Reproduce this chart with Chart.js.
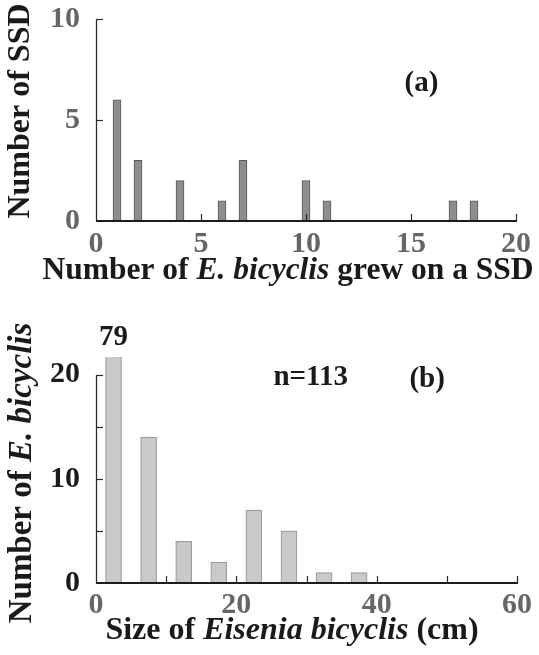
<!DOCTYPE html>
<html><head><meta charset="utf-8">
<script src="https://cdn.jsdelivr.net/npm/chart.js@4/dist/chart.umd.min.js"></script>
<style>
html,body{margin:0;padding:0;background:#fff;width:539px;height:655px;overflow:hidden}
canvas{position:absolute;left:0}
#ca{top:0}
#cb{top:300px}
</style></head><body>
<canvas id="ca" width="539" height="300"></canvas>
<canvas id="cb" width="539" height="355"></canvas>
<script>
// ---- data ----
const ssdCounts = [1, 2, 4, 6, 7, 10, 11, 17, 18];
const ssdFreq   = [6, 3, 2, 1, 3, 2, 1, 1, 1];
const ssdYTicks = [0, 5, 10];
const ssdXTicks = [0, 5, 10, 15, 20];

const sizeBins  = [2.5, 7.5, 12.5, 17.5, 22.5, 27.5, 32.5, 37.5];
const sizeFreq  = [79, 14, 4, 2, 7, 5, 1, 1];
const sizeYTicks = [0, 5, 10, 15, 20];
const sizeYLabels = [0, 10, 20];
const sizeXTicks = [0, 10, 20, 30, 40, 50, 60];
const sizeXLabels = [0, 20, 40, 60];

const panelA = '(a)';
const panelB = '(b)';
const sampleNote = 'n=113';
const titleAX = [['Number of ', false], ['E. bicyclis', true], [' grew on a SSD', false]];
const titleAY = [['Number of SSD', false]];
const titleBX = [['Size of ', false], ['Eisenia bicyclis', true], [' (cm)', false]];
const titleBY = [['Number of ', false], ['E. bicyclis', true]];

// ---- helpers ----
const FAM = "'Liberation Serif','Times New Roman',serif";
function fnt(size, italic){ return (italic ? 'italic ' : '') + 'bold ' + size + 'px ' + FAM; }
function drawMixed(ctx, segs, cx, cy, size, rot, color){
  ctx.save();
  ctx.translate(cx, cy);
  if (rot) ctx.rotate(rot);
  ctx.fillStyle = color;
  ctx.textBaseline = 'middle';
  ctx.textAlign = 'left';
  let total = 0;
  const w = segs.map(s => { ctx.font = fnt(size, s[1]); const m = ctx.measureText(s[0]).width; total += m; return m; });
  let x = -total / 2;
  segs.forEach((s, i) => { ctx.font = fnt(size, s[1]); ctx.fillText(s[0], x, 0); x += w[i]; });
  ctx.restore();
}

function axesPlugin(o){
  return {
    id: 'axesDraw',
    afterDatasetsDraw(chart){
      const ctx = chart.ctx, xs = chart.scales.x, ys = chart.scales.y;
      const x0 = Math.round(xs.getPixelForValue(0));
      const y0 = Math.round(ys.getPixelForValue(0));
      ctx.save();
      // x axis
      ctx.strokeStyle = '#1c1c1c';
      ctx.lineWidth = 2;
      ctx.beginPath();
      ctx.moveTo(x0, y0);
      ctx.lineTo(Math.round(xs.getPixelForValue(o.xEnd)) + 1, y0);
      ctx.stroke();
      // y axis
      ctx.lineWidth = 1.3;
      ctx.strokeStyle = '#2a2a2a';
      ctx.beginPath();
      ctx.moveTo(x0 + 0.5, y0);
      ctx.lineTo(x0 + 0.5, Math.round(ys.getPixelForValue(o.yEnd)));
      ctx.stroke();
      // inward ticks
      ctx.lineWidth = 1.2;
      o.yTicks.forEach(v => { if (v === 0) return; const yy = Math.round(ys.getPixelForValue(v)) + 0.5;
        ctx.beginPath(); ctx.moveTo(x0, yy); ctx.lineTo(x0 + 7, yy); ctx.stroke(); });
      o.xTicks.forEach(v => { if (v === 0) return; const xx = Math.round(xs.getPixelForValue(v)) + 0.5;
        ctx.beginPath(); ctx.moveTo(xx, y0); ctx.lineTo(xx, y0 - 7); ctx.stroke(); });
      // annotations
      (o.notes || []).forEach(n => {
        ctx.font = fnt(n.size, false);
        ctx.fillStyle = '#1a1a1a';
        ctx.textAlign = 'center';
        ctx.textBaseline = 'middle';
        ctx.fillText(n.text, xs.getPixelForValue(n.x), ys.getPixelForValue(n.y));
      });
      // overflow value labels
      if (o.overflow) {
        const ds = chart.data.datasets[0].data;
        ds.forEach(p => {
          if (p.y > ys.max) {
            ctx.font = fnt(29, false);
            ctx.fillStyle = '#1a1a1a';
            ctx.textAlign = 'center';
            ctx.textBaseline = 'middle';
            ctx.fillText(String(p.y), xs.getPixelForValue(p.x), chart.chartArea.top - 19);
          }
        });
      }
      // axis titles
      o.titles.forEach(t => drawMixed(ctx, t.segs, t.x, t.y, t.size, t.rot, '#1a1a1a'));
      ctx.restore();
    }
  };
}

function tickFont(){ return { family: FAM, weight: 'bold', size: 30 }; }
function fitX(h){ return s => { s.height = h; s.paddingLeft = 0; s.paddingRight = 0; }; }
function fitY(w){ return s => { s.width = w; s.paddingTop = 0; s.paddingBottom = 0; }; }

// ---- chart (a) ----
new Chart(document.getElementById('ca'), {
  type: 'bar',
  data: { datasets: [{
    data: ssdCounts.map((c, i) => ({ x: c, y: ssdFreq[i] })),
    backgroundColor: '#8d8d8f', borderColor: '#58585a', borderWidth: 1, barThickness: 8
  }]},
  options: {
    responsive: false, animation: false, events: [], devicePixelRatio: 1,
    layout: { padding: { left: 0, top: 19, right: 23, bottom: 0 } },
    plugins: { legend: { display: false }, tooltip: { enabled: false } },
    scales: {
      x: { type: 'linear', min: 0, max: 20, offset: false,
        afterBuildTicks: s => { s.ticks = ssdXTicks.map(v => ({ value: v })); },
        grid: { display: false, drawTicks: false }, border: { display: false },
        ticks: { color: '#666', font: tickFont(), padding: 5, maxRotation: 0, autoSkip: false },
        afterFit: fitX(79) },
      y: { min: 0, max: 10,
        afterBuildTicks: s => { s.ticks = ssdYTicks.map(v => ({ value: v })); },
        grid: { display: false, drawTicks: false }, border: { display: false },
        ticks: { color: '#666', font: tickFont(), padding: 16 },
        afterFit: fitY(96) }
    }
  },
  plugins: [axesPlugin({
    xEnd: 20, yEnd: 10, xTicks: ssdXTicks, yTicks: ssdYTicks,
    notes: [{ text: panelA, x: 15.5, y: 6.8, size: 29 }],
    titles: [
      { segs: titleAX, x: 288, y: 271, size: 31.5, rot: 0 },
      { segs: titleAY, x: 21, y: 111, size: 32, rot: -Math.PI / 2 }
    ]
  })]
});

// ---- chart (b) ----
new Chart(document.getElementById('cb'), {
  type: 'bar',
  data: { datasets: [{
    data: sizeBins.map((c, i) => ({ x: c, y: sizeFreq[i] })),
    backgroundColor: '#c8c9cb', borderColor: '#9b9b9d', borderWidth: 1.2, barThickness: 16
  }]},
  options: {
    responsive: false, animation: false, events: [], devicePixelRatio: 1,
    layout: { padding: { left: 0, top: 57, right: 22, bottom: 0 } },
    plugins: { legend: { display: false }, tooltip: { enabled: false } },
    scales: {
      x: { type: 'linear', min: 0, max: 60, offset: false,
        afterBuildTicks: s => { s.ticks = sizeXLabels.map(v => ({ value: v })); },
        grid: { display: false, drawTicks: false }, border: { display: false },
        ticks: { color: '#666', font: tickFont(), padding: 4, maxRotation: 0, autoSkip: false },
        afterFit: fitX(72) },
      y: { min: 0, max: 21.7,
        afterBuildTicks: s => { s.ticks = sizeYLabels.map(v => ({ value: v })); },
        grid: { display: false, drawTicks: false }, border: { display: false },
        ticks: { color: '#1a1a1a', font: tickFont(), padding: 16 },
        afterFit: fitY(96) }
    }
  },
  plugins: [axesPlugin({
    xEnd: 60, yEnd: 20, xTicks: sizeXTicks, yTicks: sizeYTicks, overflow: true,
    notes: [{ text: sampleNote, x: 30.6, y: 19.7, size: 29 }, { text: panelB, x: 47.2, y: 19.5, size: 29 }],
    titles: [
      { segs: titleBX, x: 292, y: 331, size: 32, rot: 0 },
      { segs: titleBY, x: 22, y: 173, size: 33, rot: -Math.PI / 2 }
    ]
  })]
});
</script>
</body></html>
